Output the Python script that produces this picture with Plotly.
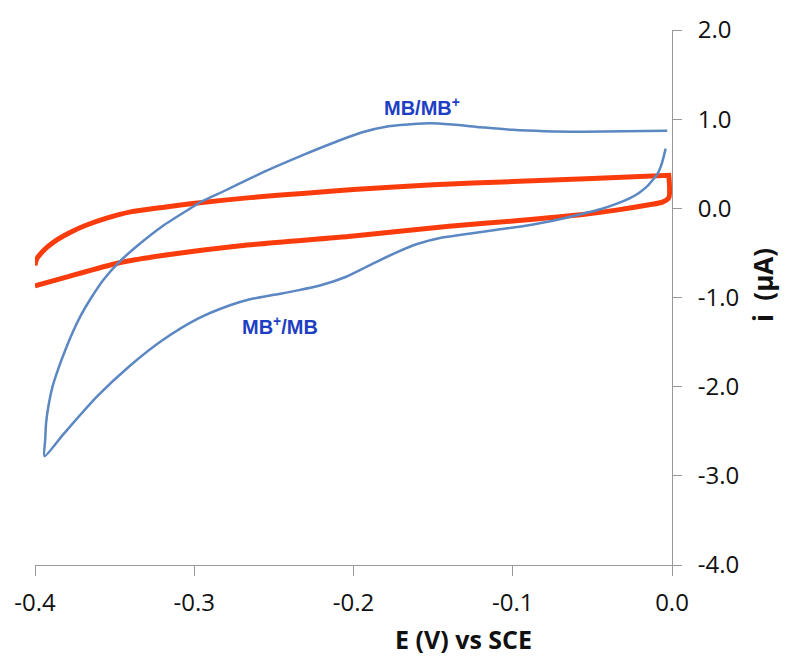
import plotly.graph_objects as go

# Blue CV (with methylene blue): top branch right->left, then return branch left->right
blue_x = [-0.003, -0.030, -0.056, -0.080, -0.100, -0.120, -0.138, -0.152, -0.160, -0.178,
          -0.195, -0.2105, -0.2315, -0.251, -0.2655, -0.2805, -0.295, -0.3024, -0.320, -0.3344,
          -0.347, -0.357, -0.3646, -0.3712, -0.3766, -0.3812, -0.3854, -0.389, -0.3914, -0.393,
          -0.3936, -0.394,
          -0.382, -0.361, -0.340, -0.320, -0.298, -0.278, -0.265, -0.250, -0.235, -0.220,
          -0.205, -0.190, -0.175, -0.160, -0.145, -0.130, -0.110, -0.090, -0.070, -0.056,
          -0.045, -0.035, -0.027, -0.021, -0.016, -0.0125, -0.009, -0.007, -0.0055, -0.004]
blue_y = [0.87, 0.865, 0.86, 0.865, 0.88, 0.91, 0.94, 0.955, 0.95, 0.92,
          0.85, 0.75, 0.60, 0.45, 0.33, 0.20, 0.08, 0.0, -0.20, -0.40,
          -0.60, -0.80, -1.00, -1.20, -1.40, -1.60, -1.80, -2.00, -2.20, -2.40,
          -2.60, -2.78,
          -2.53, -2.11, -1.76, -1.48, -1.24, -1.09, -1.02, -0.97, -0.92, -0.86,
          -0.77, -0.64, -0.51, -0.40, -0.33, -0.29, -0.24, -0.19, -0.12, -0.06,
          -0.01, 0.05, 0.11, 0.17, 0.24, 0.31, 0.39, 0.47, 0.56, 0.67]

# Red CV (blank): upper branch left->right, down at 0 V, lower branch right->left
red_x = [-0.400, -0.399, -0.396, -0.392, -0.386, -0.378, -0.368, -0.355, -0.340, -0.320,
         -0.298, -0.265, -0.230, -0.200, -0.150, -0.100, -0.050, -0.002, -0.002, -0.002,
         -0.006, -0.0144, -0.035, -0.056, -0.098, -0.140, -0.200, -0.271, -0.320, -0.347,
         -0.382, -0.400]
red_y = [-0.64, -0.57, -0.50, -0.43, -0.35, -0.27, -0.19, -0.11, -0.04, 0.01,
         0.06, 0.12, 0.17, 0.21, 0.265, 0.30, 0.335, 0.37, 0.37, 0.12,
         0.07, 0.04, -0.02, -0.07, -0.14, -0.20, -0.31, -0.42, -0.53, -0.61,
         -0.78, -0.87]

x_ticks = [-0.4, -0.3, -0.2, -0.1, 0.0]
x_tick_text = ["-0.4", "-0.3", "-0.2", "-0.1", "0.0"]
y_ticks = [-4, -3, -2, -1, 0, 1, 2]
y_tick_text = ["-4.0", "-3.0", "-2.0", "-1.0", "0.0", "1.0", "2.0"]

fig = go.Figure()
fig.add_trace(go.Scatter(x=red_x, y=red_y, mode="lines",
                         line=dict(color="#FA3C0C", width=5, shape="spline", smoothing=0.7),
                         showlegend=False))
fig.add_trace(go.Scatter(x=blue_x, y=blue_y, mode="lines",
                         line=dict(color="#5B87C2", width=2.5, shape="spline", smoothing=0.7),
                         showlegend=False))

tickfont = dict(family="Open Sans", size=24, color="#111111")
fig.update_xaxes(range=[-0.4, 0.0], tickvals=x_ticks, ticktext=x_tick_text,
                 ticks="outside", ticklen=10, tickcolor="#999999",
                 showline=True, linecolor="#999999", linewidth=1,
                 showgrid=False, zeroline=False, tickfont=tickfont,
                 ticklabelstandoff=6)
fig.update_yaxes(range=[-4, 2], tickvals=y_ticks, ticktext=y_tick_text, side="right",
                 ticks="outside", ticklen=9, tickcolor="#999999",
                 showline=True, linecolor="#999999", linewidth=1,
                 showgrid=False, zeroline=False, tickfont=tickfont,
                 ticklabelstandoff=11)

fig.add_annotation(x=-0.157, y=1.14, text="<b>MB/MB<sup>+</sup></b>", showarrow=False,
                   font=dict(family="Liberation Sans", size=20, color="#1E3FC4"))
fig.add_annotation(x=-0.246, y=-1.31, text="<b>MB<sup>+</sup>/MB</b>", showarrow=False,
                   font=dict(family="Liberation Sans", size=20, color="#1E3FC4"))

fig.add_annotation(xref="paper", yref="paper", x=0.673, y=-0.139, text="<b>E (V) vs SCE</b>",
                   showarrow=False, xanchor="center", yanchor="middle",
                   font=dict(family="Open Sans", size=25, color="#111111"))
fig.add_annotation(xref="paper", yref="paper", x=1.142, y=0.524, text="<b>i\u00a0 (µA)</b>",
                   textangle=-90, showarrow=False, xanchor="center", yanchor="middle",
                   font=dict(family="Open Sans", size=26, color="#111111"))

fig.update_layout(width=793, height=664, margin=dict(l=35, r=121, t=25, b=99),
                  plot_bgcolor="white", paper_bgcolor="white")

fig.write_html("out.html")
